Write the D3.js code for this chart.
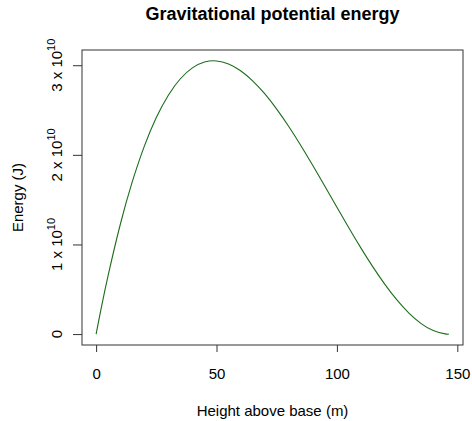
<!DOCTYPE html>
<html>
<head>
<meta charset="utf-8">
<script src="https://cdn.jsdelivr.net/npm/d3@7"></script>
<style>
  body { margin: 0; background: #fff; }
  text { font-family: "Liberation Sans", Arial, Helvetica, sans-serif; fill: #000; }
</style>
</head>
<body>
<div id="chart"></div>
<script>
// height above base (m) and energy (units of 1e10 J)
const heights = [0, 1, 2.5, 5, 10, 15, 20, 25, 30, 35, 40, 45, 50, 55, 60, 65, 70, 75,
                 80, 85, 90, 95, 100, 105, 110, 115, 120, 125, 130, 135, 140, 145, 146.5];
const energy = [0, 0.139, 0.339, 0.655, 1.220, 1.698, 2.095, 2.416, 2.665, 2.849, 2.970,
                3.035, 3.048, 3.014, 2.939, 2.826, 2.682, 2.510, 2.316, 2.105, 1.881,
                1.650, 1.416, 1.184, 0.959, 0.747, 0.552, 0.378, 0.232, 0.117, 0.039,
                0.002, 0];
const xTicks = [0, 50, 100, 150];
const yTicks = [0, 1, 2, 3];

const W = 472, H = 421;
const margin = { top: 50, right: 9, bottom: 76, left: 82 };
const width = W - margin.left - margin.right;
const height = H - margin.top - margin.bottom;

const svg = d3.select("#chart").append("svg")
    .attr("width", W)
    .attr("height", H);

const g = svg.append("g")
    .attr("transform", `translate(${margin.left},${margin.top})`);

// R-style 4% padding on both axes
const xMax = d3.max(heights), yMax = d3.max(energy);
const xScale = d3.scaleLinear()
    .domain([-0.04 * xMax, 1.04 * xMax])
    .range([0, width]);
const yScale = d3.scaleLinear()
    .domain([-0.04 * yMax, 1.04 * yMax])
    .range([height, 0]);

// --- curve ---
const data = heights.map((h, i) => ({ h, e: energy[i] }));
g.append("path")
    .datum(data)
    .attr("fill", "none")
    .attr("stroke", "#1a6e1a")
    .attr("stroke-width", 1.1)
    .attr("d", d3.line()
        .x(d => xScale(d.h))
        .y(d => yScale(d.e))
        .curve(d3.curveNatural));

// --- box ---
g.append("rect")
    .attr("x", 0).attr("y", 0)
    .attr("width", width).attr("height", height)
    .attr("fill", "none")
    .attr("stroke", "#333")
    .attr("stroke-width", 1);

// --- x axis ---
const xAxis = g.append("g")
    .attr("transform", `translate(0,${height})`)
    .call(d3.axisBottom(xScale).tickValues(xTicks).tickSize(7).tickPadding(16).tickSizeOuter(0));
xAxis.select(".domain").remove();
xAxis.selectAll(".tick line").attr("stroke", "#333");
xAxis.selectAll("text").style("font-size", "15px").attr("fill", "#000");

// --- y axis, labels as "n x 10^10" ---
const yAxis = g.append("g")
    .call(d3.axisLeft(yScale).tickValues(yTicks).tickSize(9).tickFormat("").tickSizeOuter(0));
yAxis.select(".domain").remove();
yAxis.selectAll(".tick line").attr("stroke", "#333");

yTicks.forEach(v => {
    const t = g.append("text")
        .attr("transform", `translate(-20,${yScale(v)}) rotate(-90)`)
        .attr("text-anchor", "middle")
        .style("font-size", "15px");
    if (v === 0) {
        t.text("0");
    } else {
        t.append("tspan").text(`${v} x 10`);
        t.append("tspan").attr("dy", -7).style("font-size", "11px").text("10");
    }
});

// --- titles ---
svg.append("text")
    .attr("x", margin.left + width / 2)
    .attr("y", 20)
    .attr("text-anchor", "middle")
    .style("font-size", "18px")
    .style("font-weight", "bold")
    .text("Gravitational potential energy");

svg.append("text")
    .attr("x", margin.left + width / 2)
    .attr("y", 416)
    .attr("text-anchor", "middle")
    .style("font-size", "15px")
    .text("Height above base (m)");

svg.append("text")
    .attr("transform", `translate(23,${margin.top + height / 2}) rotate(-90)`)
    .attr("text-anchor", "middle")
    .style("font-size", "15px")
    .text("Energy (J)");
</script>
</body>
</html>
